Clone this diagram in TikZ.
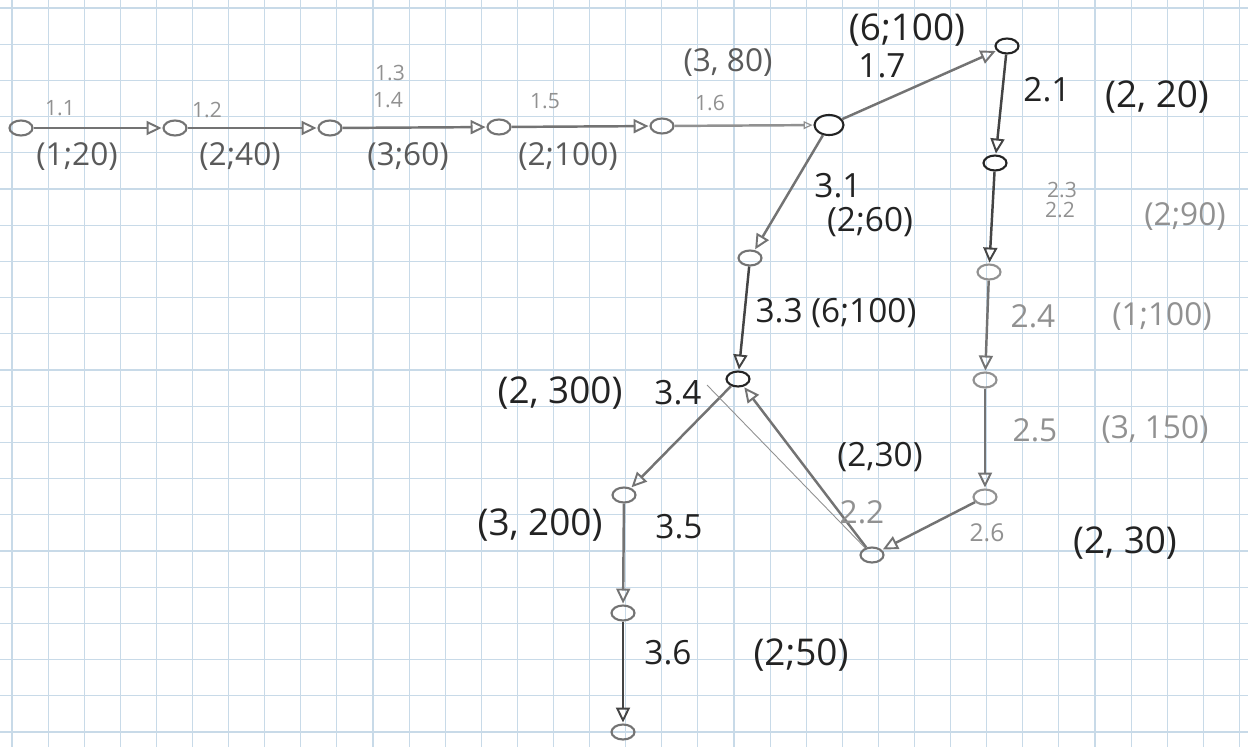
\documentclass[tikz,border=0pt]{standalone}
\usepackage{fontspec}
\setmainfont{Open Sans}
\usetikzlibrary{arrows.meta,shapes.geometric}
\definecolor{gridc}{RGB}{200,218,232}
\definecolor{edgec}{RGB}{115,115,115}
\definecolor{darkc}{RGB}{35,35,35}
\definecolor{midc}{RGB}{90,90,90}
\definecolor{lightc}{RGB}{145,145,145}
\begin{document}
\begin{tikzpicture}[x=0.02cm,y=-0.02cm,
  ev/.style={draw=edgec, line width=1.2pt, ellipse, minimum width=0.46cm, minimum height=0.3cm, inner sep=0pt},
  evbig/.style={ev, draw=darkc, minimum width=0.58cm, minimum height=0.4cm},
  act/.style={draw=edgec, line width=1.4pt, -{Triangle[open,length=0.3cm,width=0.28cm,line width=1.1pt]}, shorten >=0.5pt},
  actdark/.style={act, draw=darkc!85},
  actfaint/.style={act, draw=lightc, -{Triangle[open,length=0.18cm,width=0.16cm,line width=0.7pt]}},
  thinline/.style={draw=lightc, line width=0.5pt},
  lsmall/.style={font=\fontsize{12}{14}\selectfont, text=lightc, inner sep=0pt},
  lmid/.style={font=\fontsize{18}{21}\selectfont, text=midc, inner sep=0pt},
  llight/.style={font=\fontsize{18}{21}\selectfont, text=lightc, inner sep=0pt},
  ldark/.style={font=\fontsize{19}{22}\selectfont, text=darkc, inner sep=0pt},
  lbig/.style={font=\fontsize{21}{24}\selectfont, text=darkc, inner sep=0pt}
]
% paper
\fill[white] (0,0) rectangle (1248,747);
\useasboundingbox (0,0) rectangle (1248,747);
\foreach \k in {0,...,34} \draw[gridc, line width=0.6pt] ({12+36.1*\k},0) -- ({12+36.1*\k},747);
\foreach \j in {0,...,20} \draw[gridc, line width=0.6pt] (0,{8+36.2*\j}) -- (1248,{8+36.2*\j});

% events
\node[ev] (n1) at (21,128) {};
\node[ev] (n2) at (175,128) {};
\node[ev] (n3) at (330,128) {};
\node[ev] (n4) at (499,127) {};
\node[ev] (n5) at (662,126) {};
\node[evbig] (n6) at (829,125) {};
\node[ev, draw=darkc] (n7) at (1007,46) {};
\node[ev, draw=darkc] (n8) at (995,163) {};
\node[ev, draw=lightc] (n9) at (989,272) {};
\node[ev, draw=lightc] (n10) at (985,380) {};
\node[ev, draw=lightc] (n11) at (985,497) {};
\node[ev] (n12) at (872,555) {};
\node[ev] (n13) at (750,258) {};
\node[ev, draw=darkc] (n14) at (738,379) {};
\node[ev] (n15) at (624,495) {};
\node[ev] (n16) at (623,613) {};
\node[ev] (n17) at (623,732) {};
\coordinate (t) at (707,385);

% activities
\draw[act] (n1) -- (n2);
\draw[act] (n2) -- (n3);
\draw[act] (n3) -- (n4);
\draw[act] (n4) -- (n5);
\draw[actfaint] (n5) -- (n6);
\draw[act] (n6) -- (n7);
\draw[actdark] (n7) -- (n8);
\draw[actdark] (n8) -- (n9);
\draw[act] (n9) -- (n10);
\draw[act] (n10) -- (n11);
\draw[act] (n11) -- (n12);
\draw[act] (n12) -- (n14);
\draw[act] (n6) -- (n13);
\draw[actdark] (n13) -- (n14);
\draw[act] (n14) -- (n15);
\draw[act] (n15) -- (n16);
\draw[actdark] (n16) -- (n17);
\draw[thinline] (t) -- (n12);

% labels
\node[lsmall] (l11) at (60,108) {1.1};
\node[lmid] (w11) at (77,157) {(1;20)};
\node[lsmall] (l12) at (207,110) {1.2};
\node[lmid] (w12) at (240,157) {(2;40)};
\node[lsmall] (l13) at (390,73) {1.3};
\node[lsmall] (l14) at (388,100) {1.4};
\node[lmid] (w13) at (408,157) {(3;60)};
\node[lsmall] (l15) at (545,101) {1.5};
\node[lmid] (w15) at (568,157) {(2;100)};
\node[lmid] (w16) at (728,63) {(3, 80)};
\node[lsmall] (l16) at (710,103) {1.6};
\node[lbig] (w17) at (907,30) {(6;100)};
\node[ldark] (l17) at (882,66) {1.7};
\node[ldark] (l21) at (1047,90) {2.1};
\node[lbig] (w21) at (1157,97) {(2, 20)};
\node[lsmall] (l23) at (1062,190) {2.3};
\node[lsmall] (l22) at (1060,210) {2.2};
\node[llight] (w23) at (1185,217) {(2;90)};
\node[llight] (l24) at (1033,316) {2.4};
\node[llight] (w24) at (1162,317) {(1;100)};
\node[llight] (l25) at (1035,430) {2.5};
\node[llight] (w25) at (1155,430) {(3, 150)};
\node[font=\fontsize{14}{16}\selectfont, text=lightc, inner sep=0pt] (l26) at (987,533) {2.6};
\node[lbig] (w26) at (1125,543) {(2, 30)};
\node[ldark] (w22) at (880,457) {(2,30)};
\node[llight] (l22b) at (862,512) {2.2};
\node[ldark] (l31) at (838,186) {3.1};
\node[ldark] (w31) at (870,222) {(2;60)};
\node[ldark] (l33) at (836,313) {3.3 (6;100)};
\node[lbig] (w34) at (560,393) {(2, 300)};
\node[ldark] (l34) at (678,393) {3.4};
\node[lbig] (w35) at (540,525) {(3, 200)};
\node[ldark] (l35) at (679,527) {3.5};
\node[ldark] (l36) at (668,653) {3.6};
\node[lbig] (w36) at (801,655) {(2;50)};
\end{tikzpicture}
\end{document}
